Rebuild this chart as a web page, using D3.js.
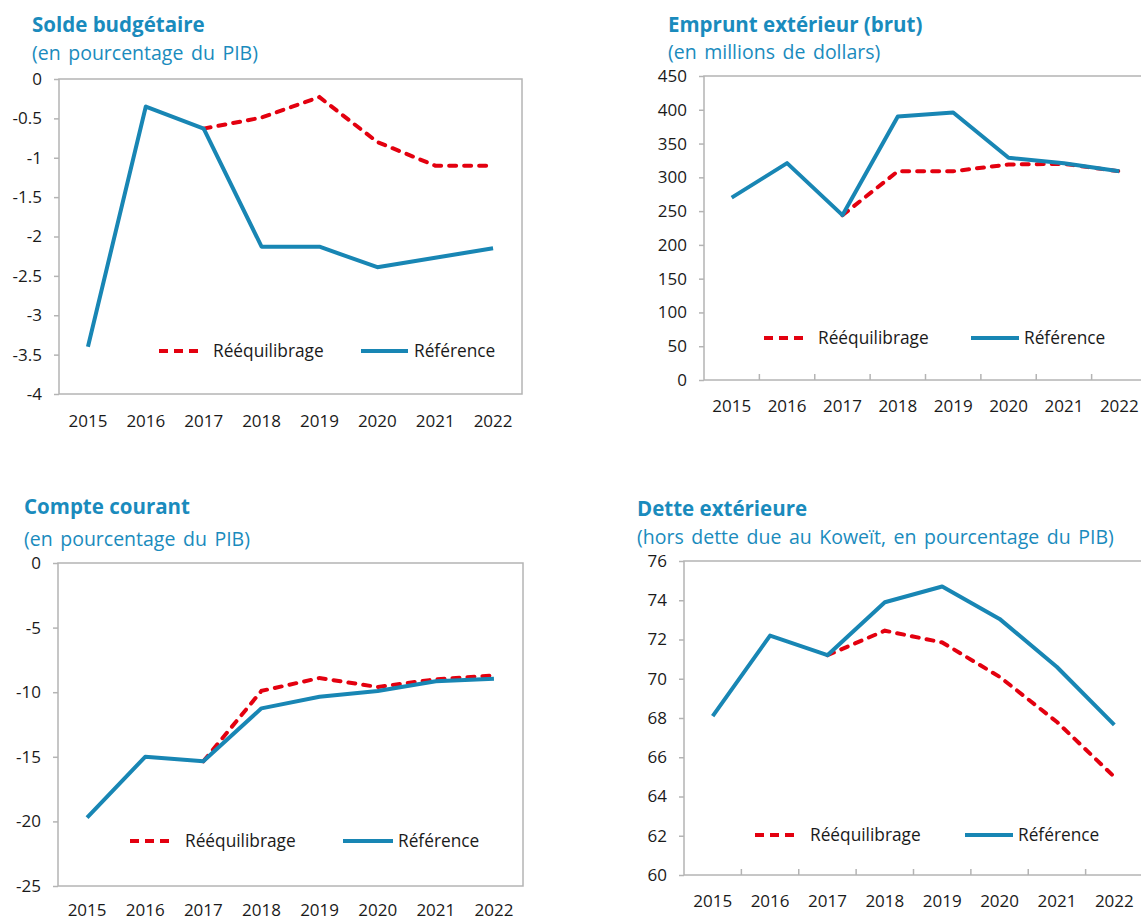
<!DOCTYPE html>
<html><head>
<meta charset="utf-8">
<title>Rééquilibrage vs Référence</title>
<script src="https://d3js.org/d3.v7.min.js"></script>
<style>
body { margin: 0; background: #fff; }
svg text { font-family: 'Open Sans', 'DejaVu Sans', sans-serif; }
.title { font-weight: 700; fill: #1a8bbd; font-size: 20.5px; }
.sub { fill: #1a8bbd; font-size: 19.5px; word-spacing: 2.5px; }
.tick text { fill: #1a1a1a; font-size: 17px; }
.leg { fill: #1a1a1a; font-size: 17.3px; }
</style>
</head>
<body>
<div class="hull"></div>
<script>
// data
const years = ["2015", "2016", "2017", "2018", "2019", "2020", "2021", "2022"];

const soldeRef  = [-3.4, -0.35, -0.63, -2.13, -2.13, -2.39, -2.27, -2.15];
const soldeReeq = [null, null, -0.63, -0.49, -0.23, -0.8, -1.1, -1.1];

const empruntRef  = [270, 321, 244, 390, 396, 329, 321, 309];
const empruntReeq = [null, null, 244, 309, 309, 319, 320, 309];

const compteRef  = [-19.7, -15.0, -15.35, -11.25, -10.35, -9.9, -9.15, -8.95];
const compteReeq = [null, null, -15.35, -9.9, -8.9, -9.6, -9.0, -8.7];

const detteRef  = [68.1, 72.2, 71.2, 73.9, 74.7, 73.05, 70.6, 67.65];
const detteReeq = [null, null, 71.2, 72.45, 71.85, 70.1, 67.8, 65.0];

const RED = "#e3000f", BLUE = "#1886b4", GRID = "#b4b4b4";

const panels = [
  {title: "Solde budgétaire", sub: "(en pourcentage du PIB)", tx: 32, ty: 32, sy: 60,
   box: [59, 522, 79, 394], dom: [-4, 0], step: 0.5, xticks: false, xpad: 21,
   ref: soldeRef, reeq: soldeReeq, leg: {y: 351, r: [159, 203, 213], b: [361, 408, 414]}},
  {title: "Emprunt extérieur (brut)", sub: "(en millions de dollars)", tx: 668, ty: 32, sy: 59,
   box: [704, 1147, 76, 380], dom: [0, 450], step: 50, xticks: true, xpad: 20,
   ref: empruntRef, reeq: empruntReeq, leg: {y: 338, r: [764, 808, 818], b: [971, 1019, 1024]}},
  {title: "Compte courant", sub: "(en pourcentage du PIB)", tx: 24, ty: 514, sy: 546,
   box: [58, 523, 563, 886], dom: [-25, 0], step: 5, xticks: false, xpad: 18,
   ref: compteRef, reeq: compteReeq, leg: {y: 841, r: [130, 175, 185], b: [343, 393, 398]}},
  {title: "Dette extérieure", sub: "(hors dette due au Koweït, en pourcentage du PIB)", tx: 637, ty: 516, sy: 544,
   box: [684, 1143, 561, 875], dom: [60, 76], step: 2, xticks: true, xpad: 20,
   ref: detteRef, reeq: detteReeq, leg: {y: 835, r: [755, 799, 810], b: [965, 1013, 1018]}}
];

const svg = d3.select(".hull").append("svg")
    .attr("width", 1141)
    .attr("height", 922);

panels.forEach(p => {
  const [x0, x1, y0, y1] = p.box;
  const g = svg.append("g");

  const x = d3.scaleBand().domain(years).range([x0, x1]);
  const y = d3.scaleLinear().domain(p.dom).range([y1, y0]);
  const ticks = d3.range(p.dom[0], p.dom[1] + p.step / 2, p.step);

  g.append("text").attr("class", "title").attr("x", p.tx).attr("y", p.ty).text(p.title);
  g.append("text").attr("class", "sub").attr("x", p.tx).attr("y", p.sy).text(p.sub);

  // frame
  g.append("rect")
      .attr("x", x0).attr("y", y0)
      .attr("width", x1 - x0).attr("height", y1 - y0)
      .attr("fill", "none").attr("stroke", GRID).attr("stroke-width", 1.5);

  const ya = g.append("g")
      .attr("transform", `translate(${x0},0)`)
      .call(d3.axisLeft(y).tickValues(ticks).tickSize(5).tickPadding(12)
        .tickFormat(d => String(+d.toFixed(2))));
  ya.select(".domain").remove();
  ya.selectAll(".tick line").attr("stroke", GRID).attr("stroke-width", 1.5);

  const xa = g.append("g")
      .attr("transform", `translate(0,${y1})`)
      .call(d3.axisBottom(x).tickSize(0).tickPadding(p.xpad));
  xa.select(".domain").remove();

  if (p.xticks) {
    g.selectAll("line.xt")
      .data(years.slice(1))
      .join("line")
        .attr("class", "xt")
        .attr("x1", d => x(d)).attr("x2", d => x(d))
        .attr("y1", y1).attr("y2", y1 - 6)
        .attr("stroke", GRID).attr("stroke-width", 1.5);
  }

  const line = d3.line()
      .defined(d => d[1] != null)
      .x(d => x(d[0]) + x.bandwidth() / 2)
      .y(d => y(d[1]));

  g.append("path")
      .datum(years.map((yr, i) => [yr, p.reeq[i]]))
      .attr("d", line)
      .attr("fill", "none").attr("stroke", RED).attr("stroke-width", 4)
      .attr("stroke-dasharray", "7,8").attr("stroke-linecap", "round");

  g.append("path")
      .datum(years.map((yr, i) => [yr, p.ref[i]]))
      .attr("d", line)
      .attr("fill", "none").attr("stroke", BLUE).attr("stroke-width", 4)
      .attr("stroke-linejoin", "round");

  // legend
  const L = p.leg;
  g.append("line")
      .attr("x1", L.r[0]).attr("x2", L.r[1]).attr("y1", L.y).attr("y2", L.y)
      .attr("stroke", RED).attr("stroke-width", 4)
      .attr("stroke-dasharray", "9,6");
  g.append("text").attr("class", "leg")
      .attr("x", L.r[2]).attr("y", L.y).attr("dy", "0.35em").text("Rééquilibrage");
  g.append("line")
      .attr("x1", L.b[0]).attr("x2", L.b[1]).attr("y1", L.y).attr("y2", L.y)
      .attr("stroke", BLUE).attr("stroke-width", 4);
  g.append("text").attr("class", "leg")
      .attr("x", L.b[2]).attr("y", L.y).attr("dy", "0.35em").text("Référence");
});
</script>
</body>
</html>
